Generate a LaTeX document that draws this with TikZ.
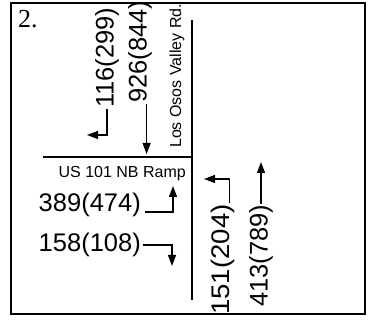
\documentclass[tikz,border=0pt]{standalone}
\usepackage{fontspec}
\setmainfont{Liberation Serif}
\newfontfamily\volfont{Liberation Sans}
\usetikzlibrary{arrows.meta}

\begin{document}
\begin{tikzpicture}[x=1pt, y=-1pt,
  vol/.style={font=\volfont\fontsize{25.5}{25.5}\selectfont, inner sep=1pt},
  street/.style={font=\volfont\fontsize{16}{16}\selectfont, inner sep=1pt},
  road/.style={line width=2pt},
  move/.style={line width=1.2pt, -{Triangle[length=11pt, width=8pt]}}]
  \useasboundingbox (0,0) rectangle (375,320);

  % Frame and number
  \draw[line width=2.6pt] (11,3) rectangle (365,314);
  \node[font=\fontsize{26}{26}\selectfont, anchor=north west, inner sep=0pt] (num) at (18,10) {2.};

  % Roads
  \draw[road] (192,20) -- (192,300);
  \draw[road] (43,157) -- (192,157);
  \node[street, rotate=90, anchor=west] (lovr) at (177,149) {Los Osos Valley Rd.};
  \node[street, anchor=base east] (ramp) at (187,178) {US 101 NB Ramp};

  % Southbound volumes
  \node[vol, rotate=90, anchor=west] (n116) at (107,109) {116(299)};
  \node[vol, rotate=90, anchor=west] (n926) at (140,104) {926(844)};
  \coordinate (e116) at (87,135);
  \coordinate (e926) at (144,154);
  \draw[move] (n116.west) |- (e116);
  \draw[move] (n926.base west) -- (n926.base west |- e926);

  % Eastbound (ramp) volumes
  \node[vol, anchor=base east] (n389) at (142,212) {389(474)};
  \node[vol, anchor=east] (n158) at (142,245) {158(108)};
  \coordinate (e389) at (173,186);
  \coordinate (e158) at (172,266);
  \draw[move] ([xshift=3pt]n389.base east) -| (e389);
  \draw[move] ([xshift=1pt]n158.east) -| (e158);

  % Northbound volumes
  \node[vol, rotate=90, xscale=1.08, anchor=west] (n151) at (223,316) {151(204)};
  \node[vol, rotate=90, anchor=west] (n413) at (261,308) {413(789)};
  \coordinate (e151) at (204,179);
  \coordinate (e413) at (262,162);
  \draw[move] (n151.base east) |- (e151);
  \draw[move] (n413.east) -- (n413.east |- e413);
\end{tikzpicture}
\end{document}
